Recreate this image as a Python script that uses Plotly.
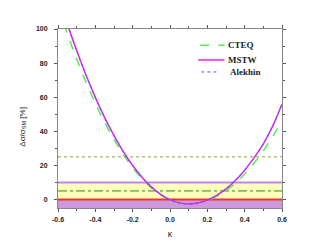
import plotly.graph_objects as go

kappa = [-0.60, -0.55, -0.50, -0.45, -0.40, -0.35, -0.30, -0.25, -0.20, -0.15, -0.10, -0.05,
         0.00, 0.05, 0.10, 0.15, 0.20, 0.25, 0.30, 0.35, 0.40, 0.45, 0.50, 0.55, 0.60]
cteq = [113.0, 97.1, 82.4, 68.8, 56.4, 45.2, 35.2, 26.3, 18.6, 12.2, 6.8, 2.7,
        -0.2, -2.0, -2.6, -2.1, -0.6, 1.8, 5.2, 9.6, 15.0, 21.3, 28.6, 36.9, 46.2]
mstw = [120.0, 103.0, 87.4, 73.0, 59.9, 48.0, 37.4, 28.0, 19.9, 13.0, 7.4, 3.0,
        -0.1, -2.0, -2.6, -2.0, -0.4, 2.4, 6.2, 11.1, 17.2, 24.4, 32.6, 43.0, 56.0]
alekhin = [120.0, 103.0, 87.4, 73.0, 59.9, 48.0, 37.4, 28.0, 19.9, 13.0, 7.4, 3.0,
           -0.1, -2.0, -2.6, -2.0, -0.4, 2.4, 6.2, 11.1, 17.2, 24.4, 32.6, 43.0, 56.0]

series_names = ["CTEQ", "MSTW", "Alekhin"]

# horizontal reference levels (%)
band_purple = [-5, 0]
band_yellow = [0, 10]
level_red = 0
level_purple = 10
level_dashdot = 5
level_dotted = 25

x_ticks = [-0.6, -0.4, -0.2, 0.0, 0.2, 0.4, 0.6]
x_ticklabels = ["-0.6", "-0.4", "-0.2", "0.0", "0.2", "0.4", "0.6"]
y_ticks = [0, 20, 40, 60, 80, 100]

styles = [
    dict(color="#55ee55", width=1.5, dash="dash"),
    dict(color="#ee22ee", width=1.5, dash="solid"),
    dict(color="#5555ff", width=1, dash="dot"),
]

fig = go.Figure()
for name, ys, st in zip(series_names, [cteq, mstw, alekhin], styles):
    fig.add_trace(go.Scatter(x=kappa, y=ys, name=name, mode="lines", line_shape="spline",
                             line=st, showlegend=False))

shapes = [
    dict(type="rect", xref="x", yref="y", x0=-0.6, x1=0.6, y0=band_purple[0], y1=band_purple[1],
         fillcolor="#cc99dd", line_width=0, layer="below"),
    dict(type="rect", xref="x", yref="y", x0=-0.6, x1=0.6, y0=band_yellow[0], y1=band_yellow[1],
         fillcolor="#ffffbb", line_width=0, layer="below"),
    dict(type="line", xref="x", yref="y", x0=-0.6, x1=0.6, y0=level_red, y1=level_red,
         line=dict(color="#ee3333", width=2), layer="below"),
    dict(type="line", xref="x", yref="y", x0=-0.6, x1=0.6, y0=level_purple, y1=level_purple,
         line=dict(color="#bb88ee", width=2), layer="below"),
    dict(type="line", xref="x", yref="y", x0=-0.6, x1=0.6, y0=level_dashdot, y1=level_dashdot,
         line=dict(color="#228822", width=1, dash="dashdot"), layer="below"),
    dict(type="line", xref="x", yref="y", x0=-0.6, x1=0.6, y0=level_dotted, y1=level_dotted,
         line=dict(color="#999944", width=1, dash="dot"), layer="below"),
]

# hand-drawn legend (paper coordinates)
leg_rows = [0.909, 0.827, 0.760]
leg_x0 = [0.635, 0.626, 0.640]
leg_x1 = [0.743, 0.743, 0.711]
leg_tx = [0.752, 0.752, 0.760]
annotations = []
for name, st, yy, a, b, tx in zip(series_names, styles, leg_rows, leg_x0, leg_x1, leg_tx):
    shapes.append(dict(type="line", xref="paper", yref="paper", x0=a, x1=b, y0=yy, y1=yy,
                       line=st))
    annotations.append(dict(xref="paper", yref="paper", x=tx, y=yy, text=name, showarrow=False,
                            xanchor="left", yanchor="middle",
                            font=dict(family="Liberation Serif", size=9, color="#222222", weight="bold")))

# y-axis title
annotations.append(dict(xref="paper", yref="paper", x=-0.16, y=0.455, text="Δσ/σ<sub>SM</sub> [%]",
                        textangle=-90, showarrow=False, xanchor="center", yanchor="middle",
                        font=dict(family="Liberation Sans", size=8, color="#222222")))

axis_common = dict(showline=True, linecolor="#888888", linewidth=1, mirror="ticks",
                   ticks="outside", ticklen=3, tickcolor="#555555", showgrid=False, zeroline=False,
                   automargin=False,
                   tickfont=dict(family="Liberation Sans", size=7, color="#222222", weight="bold"))

fig.update_layout(
    width=319, height=242,
    margin=dict(l=50, r=45, t=21, b=42),
    paper_bgcolor="white", plot_bgcolor="white",
    shapes=shapes,
    annotations=annotations,
    showlegend=False,
    xaxis=dict(range=[-0.6, 0.6], tickvals=x_ticks, ticktext=x_ticklabels, ticklabelstandoff=2,
               minor=dict(dtick=0.1, ticks="outside", ticklen=2, tickcolor="#555555"),
               title=dict(text="κ", font=dict(family="Liberation Sans", size=9, color="#222222"), standoff=8),
               **axis_common),
    yaxis=dict(range=[-5, 100], tickvals=y_ticks, ticklabelstandoff=5,
               minor=dict(dtick=10, ticks="outside", ticklen=2, tickcolor="#555555"),
               **axis_common),
)

fig.write_html("out.html")
